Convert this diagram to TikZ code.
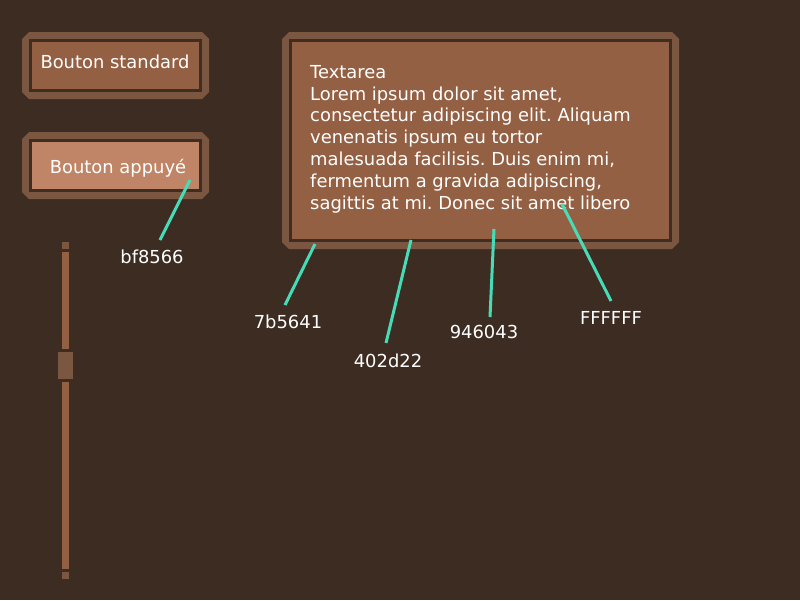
\documentclass[tikz,border=0pt]{standalone}
\usepackage{fontspec}
\setmainfont{DejaVu Sans}
\frenchspacing
\definecolor{bg}{HTML}{3D2C22}
\definecolor{frame}{HTML}{7B5641}
\definecolor{edge}{HTML}{402D22}
\definecolor{face}{HTML}{946043}
\definecolor{pressed}{HTML}{BF8566}
\definecolor{tag}{HTML}{46DCB8}
% outer frame with cut corners round a named node
\newcommand\cutframe[1]{%
    \fill[frame] ([xshift=7pt]#1.north west) -- ([xshift=-7pt]#1.north east)
        -- ([yshift=-7pt]#1.north east) -- ([yshift=7pt]#1.south east)
        -- ([xshift=-7pt]#1.south east) -- ([xshift=7pt]#1.south west)
        -- ([yshift=7pt]#1.south west) -- ([yshift=-7pt]#1.north west) -- cycle;}
\tikzset{
    widget/.style={rectangle, inner sep=0pt, outer sep=0pt},
    panel/.style={rectangle, draw=edge, line width=3pt, fill=face, inner sep=0pt},
    caption/.style={text=white, font=\fontsize{17.9}{21.8}\selectfont, inner sep=0pt},
    hexcode/.style={caption, anchor=base},
    pointer/.style={draw=tag, line width=3pt},
}
\begin{document}
\begin{tikzpicture}[x=1pt, y=-1pt]
\fill[bg] (0,0) rectangle (800,600);
\useasboundingbox (0,0) rectangle (800,600);
% buttons
\node[widget, minimum width=187pt, minimum height=67pt] (std) at (115.5,65.5) {};
\cutframe{std}
\node[panel, minimum width=170pt, minimum height=50pt] (stdface) at (std) {};
\node[caption, anchor=base] (stdtext) at (115,68) {Bouton standard};
\node[widget, minimum width=187pt, minimum height=67pt] (down) at (115.5,165.5) {};
\cutframe{down}
\node[panel, fill=pressed, minimum width=170pt, minimum height=50pt] (downface) at (down) {};
\node[caption, anchor=base] (downtext) at (118,173) {Bouton appuyé};
% textarea
\node[widget, minimum width=397pt, minimum height=217pt] (area) at (480.5,140.5) {};
\cutframe{area}
\node[panel, minimum width=380pt, minimum height=200pt] (areaface) at (area) {};
\node[caption, anchor=north west, align=left] (lorem) at (310,65)
    {Textarea\\Lorem ipsum dolor sit amet,\\consectetur adipiscing elit. Aliquam\\venenatis ipsum eu tortor\\malesuada facilisis. Duis enim mi,\\fermentum a gravida adipiscing,\\sagittis at mi. Donec sit amet libero};
% slider
\fill[frame] (62,242) rectangle (69,249);
\fill[face] (62,252) rectangle (69,349);
\fill[frame] (58,352) rectangle (73,379);
\fill[face] (62,382) rectangle (69,569);
\fill[frame] (62,572) rectangle (69,579);
% colour tags
\node[hexcode] (bf) at (152,263) {bf8566};
\node[hexcode] (7b) at (288,328) {7b5641};
\node[hexcode] (40) at (388,367) {402d22};
\node[hexcode] (94) at (484,338) {946043};
\node[hexcode] (ff) at (611,324) {FFFFFF};
\coordinate (sbf) at (190,180); \coordinate (ebf) at (160,240);
\coordinate (s7b) at (315,244); \coordinate (e7b) at (285,305);
\coordinate (s40) at (411,240); \coordinate (e40) at (386,343);
\coordinate (s94) at (494,229); \coordinate (e94) at (490,317);
\coordinate (sff) at (562,204); \coordinate (eff) at (611,301);
\draw[pointer] (sbf) -- (ebf);
\draw[pointer] (s7b) -- (e7b);
\draw[pointer] (s40) -- (e40);
\draw[pointer] (s94) -- (e94);
\draw[pointer] (sff) -- (eff);
\end{tikzpicture}
\end{document}
